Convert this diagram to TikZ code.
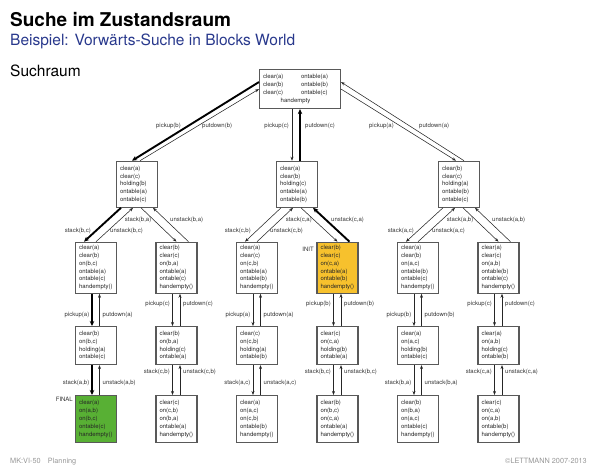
\documentclass[tikz,border=0pt]{standalone}
\usepackage{fontspec}
\setmainfont{TeX Gyre Heros}
\usetikzlibrary{arrows.meta}

\definecolor{initfill}{RGB}{247,193,45}
\definecolor{finalfill}{RGB}{88,176,52}
\definecolor{subblue}{RGB}{40,56,140}
\definecolor{footgray}{RGB}{150,150,150}

\tikzset{
  state/.style={draw=black!65, line width=1.1pt, fill=white, text=black!85,
    font=\fontsize{6}{7.8}\selectfont, align=left, text width=34pt,
    inner xsep=3.5pt, inner ysep=0pt, anchor=north},
  act/.style={draw=black!85, line width=0.55pt, -{Stealth[length=4pt,width=3pt]}},
  bold/.style={draw=black, line width=1.9pt, -{Stealth[length=5pt,width=4.5pt]}},
  lbl/.style={font=\fontsize{6}{7}\selectfont, text=black!80, inner sep=0pt},
}

\begin{document}
\begin{tikzpicture}[x=1pt,y=-1pt]
    \useasboundingbox (0,0) rectangle (600,467);

    % Titles
    \node[anchor=base west, inner sep=0pt, font=\fontsize{19}{22}\bfseries\selectfont] (title) at (10,26) {Suche im Zustandsraum};
    \node[anchor=base west, inner sep=0pt, text=subblue, font=\fontsize{15.5}{18}\selectfont] (subtitle) at (10,45.7) {Beispiel: Vorwärts-Suche in Blocks World};
    \node[anchor=base west, inner sep=0pt, font=\fontsize{15.5}{18}\selectfont] (space) at (10,76) {Suchraum};

    % Start of the search space
    \node[state, text width=74pt, minimum height=39pt] (root) at (300,69)
        {\begin{tabular}{@{}p{38pt}@{}l@{}}clear(a) & ontable(a)\\ clear(b) & ontable(b)\\ clear(c) & ontable(c)\\ \multicolumn{2}{c}{handempty}\end{tabular}};

    % Holding one block
    \node[state, minimum height=46pt] (holdB) at (137,160.7) {clear(a)\\ clear(c)\\ holding(b)\\ ontable(a)\\ ontable(c)};
    \node[state, minimum height=46pt] (holdC) at (297,160.7) {clear(a)\\ clear(b)\\ holding(c)\\ ontable(a)\\ ontable(b)};
    \node[state, minimum height=46pt] (holdA) at (459,160.7) {clear(b)\\ clear(c)\\ holding(a)\\ ontable(b)\\ ontable(c)};

    % One block on another
    \node[state, minimum height=51pt] (onBC) at (96,241.7) {clear(a)\\ clear(b)\\ on(b,c)\\ ontable(a)\\ ontable(c)\\ handempty()};
    \node[state, minimum height=51pt] (onBA) at (176.5,241.7) {clear(b)\\ clear(c)\\ on(b,a)\\ ontable(a)\\ ontable(c)\\ handempty()};
    \node[state, minimum height=51pt] (onCB) at (257,241.7) {clear(a)\\ clear(c)\\ on(c,b)\\ ontable(a)\\ ontable(b)\\ handempty()};
    \node[state, minimum height=51pt, fill=initfill] (onCA) at (337.5,241.7) {clear(b)\\ clear(c)\\ on(c,a)\\ ontable(a)\\ ontable(b)\\ handempty()};
    \node[state, minimum height=51pt] (onAC) at (418,241.7) {clear(a)\\ clear(b)\\ on(a,c)\\ ontable(b)\\ ontable(c)\\ handempty()};
    \node[state, minimum height=51pt] (onAB) at (498.5,241.7) {clear(a)\\ clear(c)\\ on(a,b)\\ ontable(b)\\ ontable(c)\\ handempty()};

    % Holding the third block
    \node[state, minimum height=38pt] (holdAbc) at (96,326) {clear(b)\\ on(b,c)\\ holding(a)\\ ontable(c)};
    \node[state, minimum height=38pt] (holdCba) at (176.5,326) {clear(b)\\ on(b,a)\\ holding(c)\\ ontable(a)};
    \node[state, minimum height=38pt] (holdAcb) at (257,326) {clear(c)\\ on(c,b)\\ holding(a)\\ ontable(b)};
    \node[state, minimum height=38pt] (holdBca) at (337.5,326) {clear(c)\\ on(c,a)\\ holding(b)\\ ontable(a)};
    \node[state, minimum height=38pt] (holdBac) at (418,326) {clear(a)\\ on(a,c)\\ holding(b)\\ ontable(c)};
    \node[state, minimum height=38pt] (holdCab) at (498.5,326) {clear(a)\\ on(a,b)\\ holding(c)\\ ontable(b)};

    % Towers
    \node[state, minimum height=47pt, fill=finalfill] (towerABC) at (96,395) {clear(a)\\ on(a,b)\\ on(b,c)\\ ontable(c)\\ handempty()};
    \node[state, minimum height=47pt] (towerCBA) at (176.5,395) {clear(c)\\ on(c,b)\\ on(b,a)\\ ontable(a)\\ handempty()};
    \node[state, minimum height=47pt] (towerACB) at (257,395) {clear(a)\\ on(a,c)\\ on(c,b)\\ ontable(b)\\ handempty()};
    \node[state, minimum height=47pt] (towerBCA) at (337.5,395) {clear(b)\\ on(b,c)\\ on(c,a)\\ ontable(a)\\ handempty()};
    \node[state, minimum height=47pt] (towerBAC) at (418,395) {clear(b)\\ on(b,a)\\ on(a,c)\\ ontable(c)\\ handempty()};
    \node[state, minimum height=47pt] (towerCAB) at (498.5,395) {clear(c)\\ on(c,a)\\ on(a,b)\\ ontable(b)\\ handempty()};

    % Markers
    \node[lbl, anchor=east] (initlbl) at (314,249) {INIT};
    \node[lbl, anchor=east] (finallbl) at (73,399) {FINAL};

    % Root <-> holding
    \draw[bold] ([yshift=7pt]root.west) -- ([xshift=-5pt]holdB.north);
    \draw[act] ([xshift=3pt]holdB.north) -- (root.west);
    \draw[act] ([xshift=-5pt]holdC.north |- root.south) -- ([xshift=-5pt]holdC.north);
    \draw[bold] ([xshift=3pt]holdC.north) -- ([xshift=3pt]holdC.north |- root.south);
    \draw[act] (root.east) -- ([xshift=-3pt]holdA.north);
    \draw[act] ([xshift=5pt]holdA.north) -- ([yshift=7pt]root.east);
    \node[lbl, anchor=east] (l1) at (181,126) {pickup(b)};
    \node[lbl, anchor=west] (l2) at (202,126) {putdown(b)};
    \node[lbl, anchor=east] (l3) at (289,126) {pickup(c)};
    \node[lbl, anchor=west] (l4) at (305,126) {putdown(c)};
    \node[lbl, anchor=east] (l5) at (394,126) {pickup(a)};
    \node[lbl, anchor=west] (l6) at (419,126) {putdown(a)};

    % Holding <-> one block on another
    \draw[bold] ([xshift=-16pt]holdB.south) -- ([xshift=-12pt]onBC.north);
    \draw[act] (onBC.north) -- ([xshift=-4pt]holdB.south);
    \draw[act] ([xshift=4pt]holdB.south) -- (onBA.north);
    \draw[act] ([xshift=12pt]onBA.north) -- ([xshift=16pt]holdB.south);
    \draw[act] ([xshift=-16pt]holdC.south) -- ([xshift=-12pt]onCB.north);
    \draw[act] (onCB.north) -- ([xshift=-4pt]holdC.south);
    \draw[act] ([xshift=4pt]holdC.south) -- (onCA.north);
    \draw[bold] ([xshift=12pt]onCA.north) -- ([xshift=16pt]holdC.south);
    \draw[act] ([xshift=-16pt]holdA.south) -- ([xshift=-12pt]onAC.north);
    \draw[act] (onAC.north) -- ([xshift=-4pt]holdA.south);
    \draw[act] ([xshift=4pt]holdA.south) -- (onAB.north);
    \draw[act] ([xshift=12pt]onAB.north) -- ([xshift=16pt]holdA.south);
    \node[lbl, anchor=east] (l7) at (91,231) {stack(b,c)};
    \node[lbl, anchor=west] (l8) at (110,231) {unstack(b,c)};
    \node[lbl, anchor=east] (l9) at (151.5,220) {stack(b,a)};
    \node[lbl, anchor=west] (l10) at (170,220) {unstack(b,a)};
    \node[lbl, anchor=east] (l11) at (251,231) {stack(c,b)};
    \node[lbl, anchor=west] (l12) at (270,231) {unstack(c,b)};
    \node[lbl, anchor=east] (l13) at (312,220) {stack(c,a)};
    \node[lbl, anchor=west] (l14) at (331,220) {unstack(c,a)};
    \node[lbl, anchor=east] (l15) at (414,231) {stack(a,c)};
    \node[lbl, anchor=west] (l16) at (432,231) {unstack(a,c)};
    \node[lbl, anchor=east] (l17) at (473.5,220) {stack(a,b)};
    \node[lbl, anchor=west] (l18) at (492,220) {unstack(a,b)};

    % One block on another <-> holding the third
    \draw[bold] ([xshift=-4pt]onBC.south) -- ([xshift=-4pt]holdAbc.north);
    \draw[act] ([xshift=3.5pt]holdAbc.north) -- ([xshift=3.5pt]onBC.south);
    \draw[act] ([xshift=-4pt]onBA.south) -- ([xshift=-4pt]holdCba.north);
    \draw[act] ([xshift=3.5pt]holdCba.north) -- ([xshift=3.5pt]onBA.south);
    \draw[act] ([xshift=-4pt]onCB.south) -- ([xshift=-4pt]holdAcb.north);
    \draw[act] ([xshift=3.5pt]holdAcb.north) -- ([xshift=3.5pt]onCB.south);
    \draw[act] ([xshift=-4pt]onCA.south) -- ([xshift=-4pt]holdBca.north);
    \draw[act] ([xshift=3.5pt]holdBca.north) -- ([xshift=3.5pt]onCA.south);
    \draw[act] ([xshift=-4pt]onAC.south) -- ([xshift=-4pt]holdBac.north);
    \draw[act] ([xshift=3.5pt]holdBac.north) -- ([xshift=3.5pt]onAC.south);
    \draw[act] ([xshift=-4pt]onAB.south) -- ([xshift=-4pt]holdCab.north);
    \draw[act] ([xshift=3.5pt]holdCab.north) -- ([xshift=3.5pt]onAB.south);
    \node[lbl, anchor=east] (l19) at (89.5,315) {pickup(a)};
    \node[lbl, anchor=west] (l20) at (102.5,315) {putdown(a)};
    \node[lbl, anchor=east] (l21) at (170,304) {pickup(c)};
    \node[lbl, anchor=west] (l22) at (183,304) {putdown(c)};
    \node[lbl, anchor=east] (l23) at (250.5,315) {pickup(a)};
    \node[lbl, anchor=west] (l24) at (263.5,315) {putdown(a)};
    \node[lbl, anchor=east] (l25) at (331,304) {pickup(b)};
    \node[lbl, anchor=west] (l26) at (344,304) {putdown(b)};
    \node[lbl, anchor=east] (l27) at (411.5,315) {pickup(b)};
    \node[lbl, anchor=west] (l28) at (424.5,315) {putdown(b)};
    \node[lbl, anchor=east] (l29) at (492,304) {pickup(c)};
    \node[lbl, anchor=west] (l30) at (505,304) {putdown(c)};

    % Holding the third <-> towers
    \draw[bold] ([xshift=-4pt]holdAbc.south) -- ([xshift=-4pt]towerABC.north);
    \draw[act] ([xshift=3.5pt]towerABC.north) -- ([xshift=3.5pt]holdAbc.south);
    \draw[act] ([xshift=-4pt]holdCba.south) -- ([xshift=-4pt]towerCBA.north);
    \draw[act] ([xshift=3.5pt]towerCBA.north) -- ([xshift=3.5pt]holdCba.south);
    \draw[act] ([xshift=-4pt]holdAcb.south) -- ([xshift=-4pt]towerACB.north);
    \draw[act] ([xshift=3.5pt]towerACB.north) -- ([xshift=3.5pt]holdAcb.south);
    \draw[act] ([xshift=-4pt]holdBca.south) -- ([xshift=-4pt]towerBCA.north);
    \draw[act] ([xshift=3.5pt]towerBCA.north) -- ([xshift=3.5pt]holdBca.south);
    \draw[act] ([xshift=-4pt]holdBac.south) -- ([xshift=-4pt]towerBAC.north);
    \draw[act] ([xshift=3.5pt]towerBAC.north) -- ([xshift=3.5pt]holdBac.south);
    \draw[act] ([xshift=-4pt]holdCab.south) -- ([xshift=-4pt]towerCAB.north);
    \draw[act] ([xshift=3.5pt]towerCAB.north) -- ([xshift=3.5pt]holdCab.south);
    \node[lbl, anchor=east] (l31) at (89.5,383) {stack(a,b)};
    \node[lbl, anchor=west] (l32) at (102.5,383) {unstack(a,b)};
    \node[lbl, anchor=east] (l33) at (170,372) {stack(c,b)};
    \node[lbl, anchor=west] (l34) at (183,372) {unstack(c,b)};
    \node[lbl, anchor=east] (l35) at (250.5,383) {stack(a,c)};
    \node[lbl, anchor=west] (l36) at (263.5,383) {unstack(a,c)};
    \node[lbl, anchor=east] (l37) at (331,372) {stack(b,c)};
    \node[lbl, anchor=west] (l38) at (344,372) {unstack(b,c)};
    \node[lbl, anchor=east] (l39) at (411.5,383) {stack(b,a)};
    \node[lbl, anchor=west] (l40) at (424.5,383) {unstack(b,a)};
    \node[lbl, anchor=east] (l41) at (492,372) {stack(c,a)};
    \node[lbl, anchor=west] (l42) at (505,372) {unstack(c,a)};

    % Footer
    \node[anchor=base west, inner sep=0pt, text=footgray, font=\fontsize{7.3}{9}\selectfont] (slide) at (10,463) {MK:VI-50};
    \node[anchor=base west, inner sep=0pt, text=footgray, font=\fontsize{7.3}{9}\selectfont] (topic) at (47.7,463) {Planning};
    \node[anchor=base east, inner sep=0pt, text=footgray, font=\fontsize{7.3}{9}\selectfont] (copy) at (587,463) {©LETTMANN 2007-2013};
\end{tikzpicture}
\end{document}
